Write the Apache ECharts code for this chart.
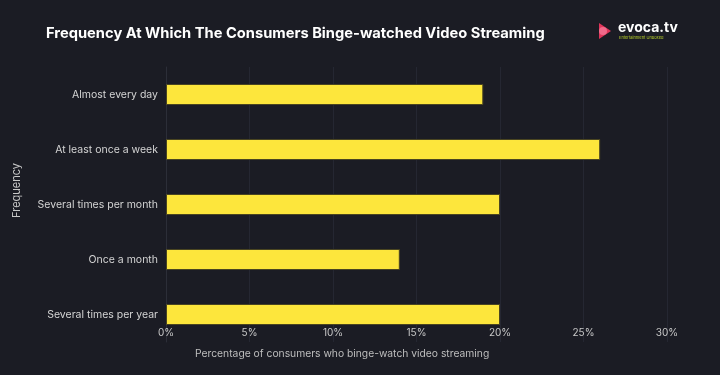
<!DOCTYPE html>
<html>
<head>
<meta charset="utf-8">
<script src="https://cdn.jsdelivr.net/npm/echarts@6/dist/echarts.min.js"></script>
<style>
html,body{margin:0;padding:0;background:#1b1c24;}
#chart{width:720px;height:375px;}
</style>
</head>
<body>
<div id="chart"></div>
<script>
var categories = ["Almost every day", "At least once a week", "Several times per month", "Once a month", "Several times per year"];
var values = [19, 26, 20, 14, 20];
var xTicks = [0, 5, 10, 15, 20, 25, 30];

var chart = echarts.init(document.getElementById('chart'), null, {renderer: 'canvas'});
var option = {
  backgroundColor: '#1b1c24',
  animation: false,
  title: {
    text: 'Frequency At Which The Consumers Binge-watched Video Streaming',
    left: 41, top: 21,
    textStyle: {color: '#ffffff', fontSize: 14.7, fontWeight: 'bold', fontFamily: 'Inter'}
  },
  grid: {left: 166, right: 53, top: 67, height: 275, containLabel: false},
  xAxis: {
    type: 'value', min: 0, max: 30, interval: 5,
    axisLine: {show: false}, axisTick: {show: false},
    splitLine: {show: true, lineStyle: {color: '#252732', width: 1}},
    axisLabel: {color: '#c8c8c8', fontSize: 10, fontFamily: 'Inter', margin: -14,
      formatter: function(v){ return v + '%'; }}
  },
  yAxis: {
    type: 'category', data: categories, inverse: true,
    axisLine: {show: true, lineStyle: {color: '#2c2e38'}},
    axisTick: {show: false},
    axisLabel: {color: '#d4d4d4', fontSize: 10.5, fontFamily: 'Inter', margin: 8}
  },
  graphic: [
    {type: 'text', left: 195, top: 349, style: {text: 'Percentage of consumers who binge-watch video streaming', fill: '#bdbdbd', font: '10.3px Inter'}},
    {type: 'text', x: 17, y: 218, rotation: Math.PI/2, style: {text: 'Frequency', fill: '#c8c8c8', font: '11px Inter', textAlign: 'left', textVerticalAlign: 'middle'}},
    {type: 'polygon', shape: {points: [[599,23],[611,31],[599,39]]}, style: {fill: '#e0355a'}},
    {type: 'circle', shape: {cx: 603, cy: 31, r: 4}, style: {fill: '#f06a8a'}},
    {type: 'text', x: 618, y: 21, style: {text: 'evoca.tv', fill: '#ffffff', font: 'bold 14px Inter'}},
    {type: 'text', x: 619, y: 36, style: {text: 'Entertainment Unboxed', fill: '#b8d12a', font: '4px Inter'}}
  ],
  series: [{
    type: 'bar', data: values, barWidth: 21,
    itemStyle: {color: '#fde63c', borderColor: '#4a4520', borderWidth: 1}
  }]
};
chart.setOption(option);
</script>
</body>
</html>
